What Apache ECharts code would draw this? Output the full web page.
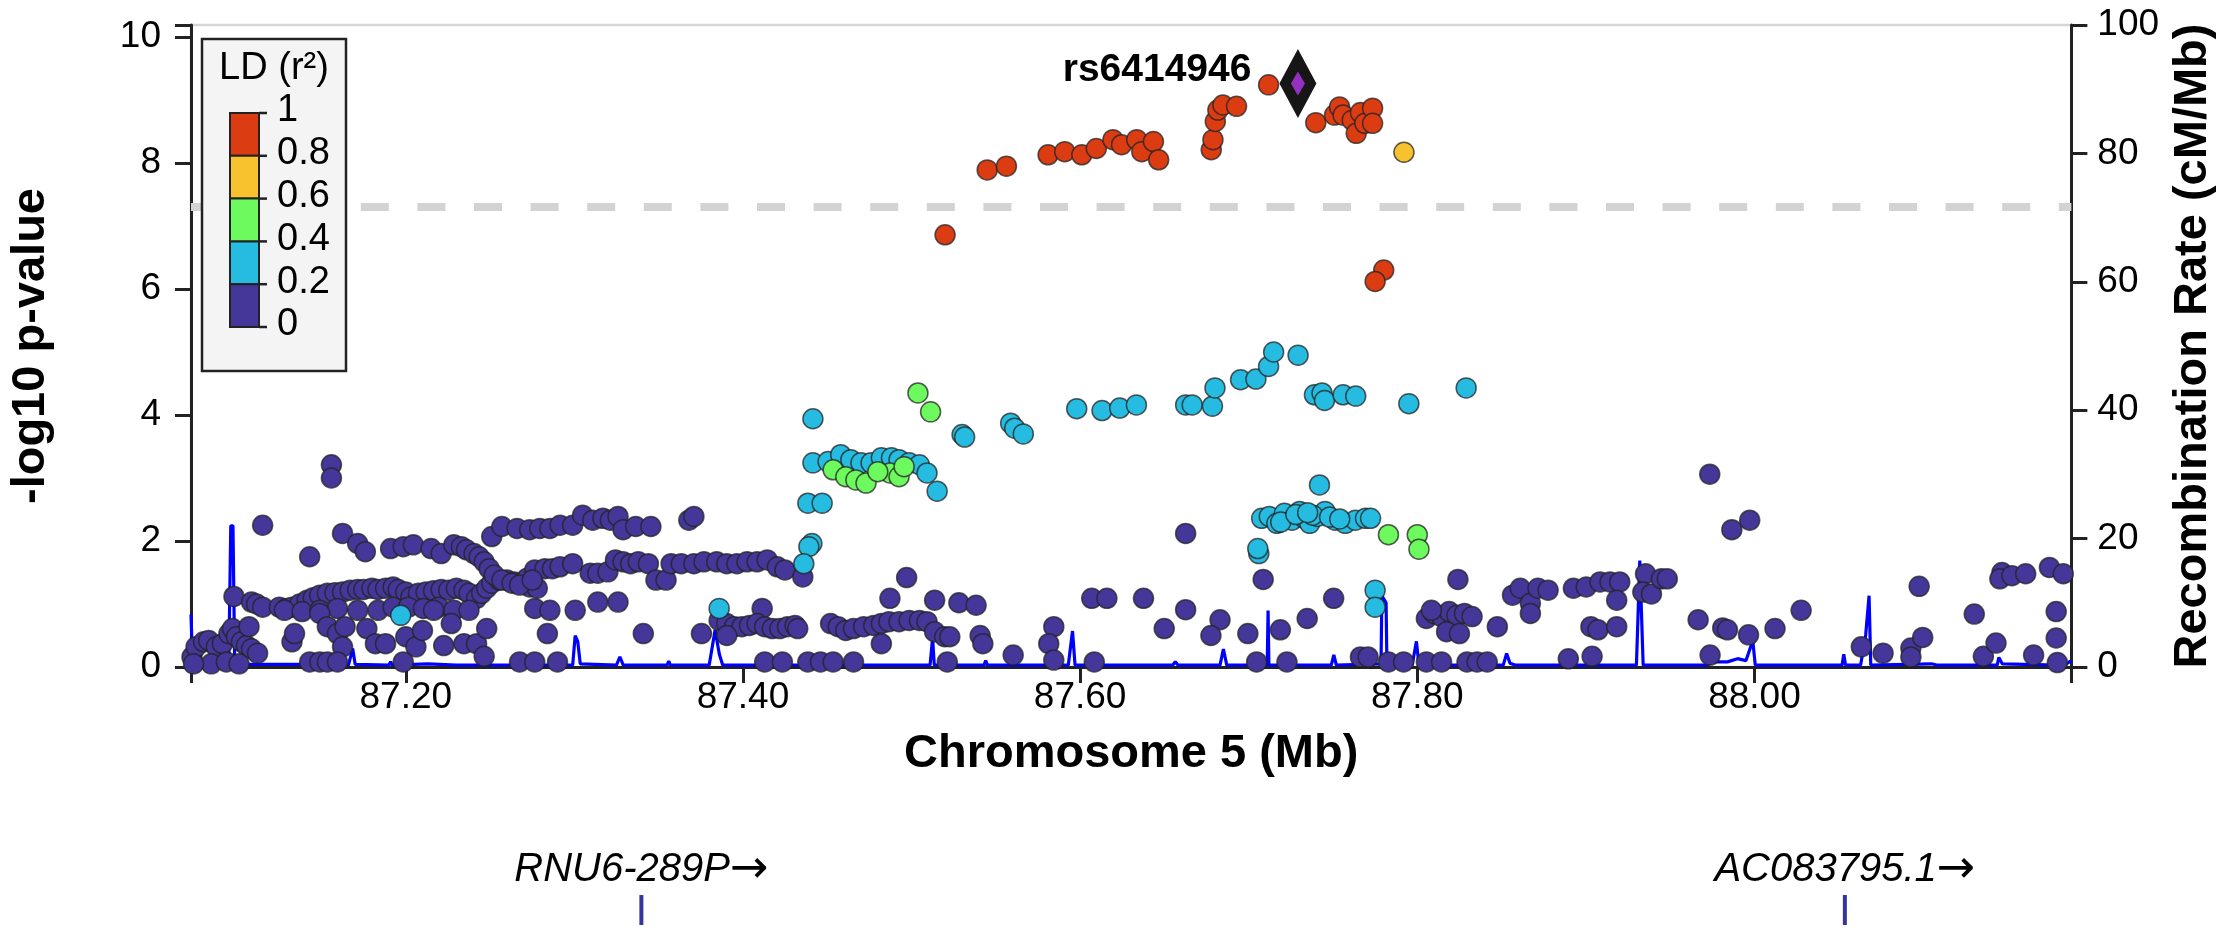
<!DOCTYPE html>
<html><head><meta charset="utf-8">
<script src="https://cdn.jsdelivr.net/npm/echarts@6/dist/echarts.min.js"></script>
<style>html,body{margin:0;padding:0;background:#fff;}#chart{width:2225px;height:933px;}</style>
</head><body><div id="chart"></div>
<script>
// ---------------- DATA ----------------
const xRange = [87.0726, 88.188];
const xTicks = [87.2, 87.4, 87.6, 87.8, 88.0];
const yLeftMax = 10.19;
const yLeftTicks = [0, 2, 4, 6, 8, 10];
const yRightTicks = [0, 20, 40, 60, 80, 100];
const gwsThreshold = 7.3;

const ldLabels = ['1', '0.8', '0.6', '0.4', '0.2', '0'];
const ldColors = ['#45379a', '#26bce1', '#6dfa5f', '#f7c22d', '#dc3c12']; // 0-0.2 .. 0.8-1

const leadSNPName = 'rs6414946';
const leadSNP = [87.7292, 9.26];

const geneNames = ['RNU6-289P', 'AC083795.1'];
const genePositions = [87.3387, 88.0482];

// LD 0 - 0.2
const snpsLD0 = [
 [87.0732,0.16],[87.0756,0.32],[87.0801,0.40],[87.0831,0.42],[87.0876,0.32],[87.0912,0.37],[87.0951,0.53],[87.0972,0.61],
 [87.0996,0.48],[87.1025,0.40],[87.1055,0.34],[87.1085,0.29],[87.1121,0.22],[87.0981,1.12],[87.1070,0.64],[87.1085,1.03],
 [87.1115,1.00],[87.1151,0.95],[87.1151,2.25],[87.0846,0.05],[87.0936,0.08],[87.1011,0.05],[87.0741,0.05],
 [87.1250,0.95],[87.1295,0.93],[87.1325,0.95],[87.1370,1.00],[87.1415,1.06],[87.1451,1.10],[87.1490,1.14],[87.1535,1.17],
 [87.1580,1.18],[87.1625,1.19],[87.1670,1.22],[87.1715,1.23],[87.1751,1.23],[87.1799,1.25],[87.1835,1.23],[87.1880,1.25],
 [87.1925,1.27],[87.1955,1.23],[87.2000,1.19],[87.2030,1.11],[87.2075,1.17],[87.2120,1.19],[87.2165,1.21],[87.2210,1.23],
 [87.2255,1.22],[87.2300,1.25],[87.2345,1.22],[87.2375,1.17],[87.2420,1.09],[87.2450,1.17],[87.2480,1.25],[87.2510,1.33],
 [87.2555,1.38],[87.2600,1.38],[87.2645,1.35],[87.2690,1.33],[87.2735,1.27],[87.2780,1.25],
 [87.1280,0.90],[87.1385,0.88],[87.1490,0.90],[87.1595,0.93],[87.1715,0.90],[87.1835,0.90],[87.1925,0.95],[87.2015,0.95],
 [87.2105,0.93],[87.2195,0.95],[87.2285,0.90],[87.2375,0.90],
 [87.1325,0.40],[87.1340,0.53],[87.1490,0.85],[87.1535,0.64],[87.1595,0.53],[87.1625,0.32],[87.1640,0.64],[87.1769,0.61],
 [87.1820,0.37],[87.1880,0.37],[87.2000,0.48],[87.2060,0.32],[87.2099,0.58],[87.2165,0.90],[87.2225,0.34],[87.2270,0.69],
 [87.2345,0.37],[87.2420,0.37],[87.2480,0.61],[87.2465,0.17],
 [87.1430,0.08],[87.1490,0.08],[87.1535,0.08],[87.1595,0.08],[87.1985,0.08],[87.2675,0.08],[87.2765,0.08],[87.2900,0.08],
 [87.1430,1.75],[87.1625,2.12],[87.1715,1.96],[87.1760,1.83],[87.1910,1.88],[87.1985,1.91],[87.2045,1.94],[87.2150,1.88],
 [87.2210,1.80],[87.2285,1.94],[87.2330,1.91],[87.2360,1.86],[87.2405,1.80],[87.2435,1.75],[87.2465,1.67],[87.2495,1.56],
 [87.2525,1.46],[87.2570,1.38],[87.1559,3.21],[87.1559,3.00],
 [87.2510,2.07],[87.2570,2.23],[87.2660,2.20],[87.2735,2.18],[87.2795,2.20],[87.2855,2.20],[87.2915,2.25],[87.2990,2.25],
 [87.3049,2.41],[87.3109,2.33],[87.3169,2.36],[87.3214,2.33],[87.3259,2.39],[87.3289,2.18],[87.3364,2.23],[87.3454,2.23],
 [87.3679,2.33],[87.3709,2.39],
 [87.2720,1.41],[87.2765,1.54],[87.2825,1.56],[87.2870,1.56],[87.2915,1.59],[87.2990,1.64],[87.3094,1.49],[87.3139,1.49],
 [87.3199,1.51],[87.3244,1.70],[87.3289,1.67],[87.3334,1.64],[87.3379,1.67],[87.3439,1.64],[87.3484,1.38],[87.3544,1.38],
 [87.3574,1.64],[87.3634,1.64],[87.3709,1.64],[87.3769,1.67],[87.3844,1.67],[87.3904,1.64],[87.3964,1.64],[87.4024,1.67],
 [87.4084,1.67],[87.4144,1.70],[87.4204,1.59],[87.4249,1.54],[87.2630,1.33],[87.2675,1.30],[87.2750,1.38],
 [87.2765,0.93],[87.2855,0.90],[87.3005,0.90],[87.3139,1.03],[87.3259,1.03],[87.2840,0.53],[87.3409,0.53],[87.3754,0.53],
 [87.4114,0.93],
 [87.3859,0.74],[87.3904,0.69],[87.3949,0.64],[87.3994,0.64],[87.4039,0.66],[87.4084,0.69],[87.4129,0.64],[87.4174,0.61],
 [87.4219,0.61],[87.4264,0.64],[87.4309,0.66],[87.3904,0.50],[87.4129,0.08],[87.4234,0.08],
 [87.4355,1.43],[87.4325,0.61],[87.4520,0.69],[87.4565,0.64],[87.4610,0.58],[87.4656,0.61],[87.4716,0.64],[87.4776,0.66],
 [87.4821,0.69],[87.4866,0.72],[87.4926,0.72],[87.4986,0.74],[87.5047,0.74],[87.5092,0.72],[87.5137,0.56],[87.5197,0.48],
 [87.5227,0.48],[87.5407,0.50],[87.5423,0.37],[87.4821,0.37],
 [87.4971,1.42],[87.4872,1.09],[87.5137,1.06],[87.5281,1.02],[87.5383,0.98],[87.6069,1.09],[87.6159,1.09],[87.6376,1.09],
 [87.5844,0.64],[87.5814,0.37],[87.6626,2.12],[87.6626,0.91],[87.6830,0.75],[87.6499,0.61],[87.6776,0.50],[87.6995,0.53],
 [87.7188,0.59],[87.7347,0.77],[87.7504,1.09],[87.7086,1.39],[87.8241,1.39],[87.8475,0.64],
 [87.8054,0.77],[87.8099,0.85],[87.8144,0.80],[87.8189,0.88],[87.8235,0.82],[87.8280,0.85],[87.8325,0.80],[87.8084,0.90],
 [87.8174,0.56],[87.8250,0.53],
 [87.8565,1.14],[87.8611,1.25],[87.8671,1.01],[87.8671,0.85],[87.8716,1.25],[87.8776,1.22],[87.8926,1.25],[87.9002,1.27],
 [87.9030,0.64],
 [87.4385,0.08],[87.4460,0.08],[87.4535,0.08],[87.4656,0.08],[87.5212,0.08],[87.5603,0.19],[87.5844,0.11],[87.6084,0.08],
 [87.7047,0.08],[87.7227,0.08],[87.7663,0.16],[87.7708,0.16],[87.7829,0.08],[87.7919,0.08],[87.8054,0.08],[87.8144,0.08],
 [87.8295,0.08],[87.8355,0.08],[87.8415,0.08],[87.8896,0.13],
 [87.9735,3.06],[87.9866,2.18],[87.9972,2.33],[87.9084,1.35],[87.9143,1.35],[87.9201,1.35],[87.9183,1.06],[87.9072,0.59],
 [87.9183,0.64],[87.9037,0.17],[87.9354,1.48],[87.9338,1.19],[87.9389,1.16],[87.9448,1.40],[87.9483,1.40],[87.9666,0.75],
 [87.9812,0.62],[87.9840,0.59],[87.9965,0.51],[88.0122,0.61],[88.0277,0.90],[87.9737,0.19],[88.0634,0.32],[88.0763,0.22],
 [88.0928,0.30],[88.0928,0.16],[88.0998,0.47],[88.0977,1.28],[88.1304,0.84],[88.1358,0.17],[88.1433,0.38],[88.1468,1.50],
 [88.1456,1.40],[88.1527,1.45],[88.1609,1.48],[88.1750,1.58],[88.1832,1.48],[88.1656,0.19],[88.1790,0.88],[88.1790,0.46],
 [88.1797,0.07]
];
// LD 0.2 - 0.4
const snpsLD2 = [
 [87.1970,0.82],[87.3859,0.93],
 [87.4415,3.94],[87.5300,3.69],[87.5315,3.65],[87.5588,3.87],[87.5612,3.79],[87.5663,3.70],[87.5980,4.10],[87.6130,4.07],
 [87.6235,4.11],[87.6334,4.16],[87.6626,4.16],[87.6665,4.16],[87.6785,4.14],[87.6800,4.43],[87.6952,4.56],[87.7043,4.57],
 [87.7118,4.77],[87.7148,5.00],[87.7293,4.95],[87.7390,4.32],[87.7435,4.35],[87.7450,4.23],[87.7560,4.32],[87.7635,4.30],
 [87.7950,4.18],[87.8290,4.43],
 [87.4415,3.24],[87.4505,3.26],[87.4580,3.37],[87.4640,3.29],[87.4700,3.24],[87.4760,3.24],[87.4821,3.32],[87.4881,3.32],
 [87.4926,3.29],[87.4986,3.24],[87.5047,3.21],[87.5092,3.08],[87.5152,2.79],
 [87.4385,2.60],[87.4470,2.60],[87.4409,1.96],[87.4391,1.91],[87.4361,1.64],
 [87.7077,2.36],[87.7122,2.39],[87.7167,2.28],[87.7212,2.44],[87.7257,2.33],[87.7302,2.47],[87.7332,2.36],[87.7362,2.28],
 [87.7408,2.39],[87.7453,2.47],[87.7513,2.33],[87.7573,2.28],[87.7633,2.33],[87.7693,2.36],[87.7723,2.36],[87.7190,2.30],
 [87.7280,2.42],[87.7380,2.41],[87.7480,2.38],[87.7540,2.35],[87.7350,2.45],[87.7420,2.89],[87.7060,1.80],[87.7054,1.88],
 [87.7750,1.22],[87.7750,0.95]
];
// LD 0.4 - 0.6
const snpsLD4 = [
 [87.5038,4.35],[87.5113,4.05],[87.4535,3.13],[87.4610,3.02],[87.4670,2.97],[87.4730,2.92],[87.4872,3.08],[87.4926,3.02],
 [87.4956,3.18],[87.4800,3.10],[87.7829,2.10],[87.8000,2.10],[87.8010,1.87]
];
// LD 0.6 - 0.8
const snpsLD6 = [[87.7921,8.17]];
// LD 0.8 - 1
const snpsLD8 = [
 [87.5199,6.86],[87.5449,7.89],[87.5563,7.95],[87.5810,8.13],[87.5909,8.18],[87.6010,8.13],[87.6096,8.23],[87.6195,8.37],
 [87.6246,8.29],[87.6336,8.37],[87.6366,8.18],[87.6435,8.34],[87.6466,8.05],[87.6778,8.21],[87.6788,8.37],[87.6802,8.66],
 [87.6817,8.84],[87.6847,8.92],[87.6928,8.90],[87.7118,9.24],[87.7398,8.64],[87.7509,8.76],[87.7539,8.89],[87.7560,8.76],
 [87.7614,8.68],[87.7638,8.47],[87.7663,8.80],[87.7689,8.63],[87.7735,8.87],[87.7735,8.63],[87.7801,6.30],[87.7750,6.12]
];

// recombination rate (cM/Mb)
const recombRate = [
 [87.0726,8.2],[87.0735,1],[87.0745,0.5],[87.0950,0.5],[87.0962,22],[87.0975,22],[87.0985,1],[87.1000,0.4],[87.1400,0.4],
 [87.1410,1.6],[87.1420,0.4],[87.1660,0.3],[87.1685,2.9],[87.1700,0.4],[87.1900,0.3],[87.1910,0.8],[87.1920,0.3],[87.2130,0.5],
 [87.2300,0.3],[87.2990,0.3],[87.3005,4.9],[87.3020,4.0],[87.3035,0.5],[87.3250,0.3],[87.3270,1.6],[87.3290,0.3],[87.3550,0.3],
 [87.3560,0.9],[87.3570,0.3],[87.3800,0.3],[87.3835,5.8],[87.3860,2],[87.3880,0.3],[87.4550,0.3],[87.4565,1],[87.4580,0.3],
 [87.4790,0.3],[87.4800,0.6],[87.4810,0.3],[87.5110,0.3],[87.5125,4.5],[87.5135,0.3],[87.5430,0.3],[87.5440,1],[87.5450,0.3],
 [87.5930,0.3],[87.5955,5.6],[87.5970,0.3],[87.6550,0.3],[87.6565,0.8],[87.6580,0.3],[87.6830,0.3],[87.6850,2.8],[87.6870,0.3],
 [87.7110,0.3],[87.7115,8.8],[87.7120,0.3],[87.7490,0.3],[87.7505,1.9],[87.7520,0.3],[87.7785,0.5],[87.7790,11.1],[87.7815,10],
 [87.7820,0.5],[87.7970,0.3],[87.7995,4.0],[87.8010,0.3],[87.8510,0.3],[87.8530,2.1],[87.8550,0.6],[87.8580,0.3],[87.9300,0.3],
 [87.9320,16.6],[87.9340,0.3],[87.9720,0.3],[87.9760,0.8],[87.9840,0.8],[87.9900,1.3],[87.9950,1.0],[87.9990,4.1],[88.0005,0.3],
 [88.0520,0.3],[88.0530,2],[88.0540,0.3],[88.0630,0.3],[88.0660,5],[88.0680,11.1],[88.0690,0.3],[88.1050,0.5],[88.1080,0.3],
 [88.1440,0.3],[88.1450,1.5],[88.1470,0.5],[88.1800,0.3],[88.1850,0.5],[88.1880,1.0]
];

// ---------------- CHART ----------------
const FONT = '"Liberation Sans", Arial, Helvetica, sans-serif';
const chart = echarts.init(document.getElementById('chart'), null, {renderer: 'canvas'});

const ldSets = [snpsLD0, snpsLD2, snpsLD4, snpsLD6, snpsLD8];
const scatterSeries = ldSets.map((d, i) => ({
  type: 'scatter', data: d, xAxisIndex: 0, yAxisIndex: 0, symbol: 'circle', symbolSize: 20,
  z: 4 + i, silent: true,
  itemStyle: {color: ldColors[i], borderColor: 'rgba(35,35,35,0.75)', borderWidth: 1.5, opacity: 1}
}));
scatterSeries[0].markLine = {
  silent: true, symbol: ['none', 'none'], animation: false, z: 1,
  label: {show: false},
  lineStyle: {color: '#d3d3d3', width: 8, type: [28, 28.6], cap: 'butt', opacity: 1},
  data: [{yAxis: gwsThreshold}]
};

// legend graphic
const barX = 230, barW = 29, barTop = 113, segH = 42.8;
const legendChildren = [
  {type: 'rect', z: 100, shape: {x: 202, y: 39, width: 144, height: 332}, style: {fill: '#f4f4f4', stroke: '#222', lineWidth: 2.5}},
  {type: 'text', z: 101, x: 274, y: 69, style: {text: 'LD (r²)', font: '38px ' + FONT, fill: '#000', align: 'center', verticalAlign: 'middle'}}
];
for (let i = 0; i < 5; i++) {
  legendChildren.push({type: 'rect', z: 101, shape: {x: barX, y: barTop + i * segH, width: barW, height: segH},
    style: {fill: ldColors[4 - i], stroke: '#222', lineWidth: 2}});
}
for (let i = 0; i < 6; i++) {
  const yy = barTop + i * segH;
  legendChildren.push({type: 'line', z: 101, shape: {x1: barX + barW, y1: yy, x2: barX + barW + 8, y2: yy}, style: {stroke: '#222', lineWidth: 2.5}});
  legendChildren.push({type: 'text', z: 101, x: 277, y: yy - 2, style: {text: ldLabels[i], font: '38px ' + FONT, fill: '#000', align: 'left', verticalAlign: 'middle'}});
}

const axisLineStyle = {color: '#222', width: 3};
const option = {
  animation: false,
  backgroundColor: '#fff',
  textStyle: {fontFamily: FONT},
  grid: [
    {left: 190, right: 143, top: 25, bottom: 266, show: true, borderColor: '#d6d6d6', borderWidth: 2.5, backgroundColor: 'transparent'},
    {left: 190, right: 143, top: 840, height: 93}
  ],
  xAxis: [
    {type: 'value', gridIndex: 0, min: xRange[0], max: xRange[1],
     axisLine: {show: true, onZero: false, lineStyle: axisLineStyle},
     axisTick: {show: true, length: 16, lineStyle: {color: '#222', width: 3}, customValues: [xRange[0]].concat(xTicks, [xRange[1]])},
     axisLabel: {show: true, customValues: xTicks, formatter: v => v.toFixed(2), fontSize: 37, color: '#000', margin: 12, fontFamily: FONT},
     splitLine: {show: false},
     name: 'Chromosome 5 (Mb)', nameLocation: 'middle', nameGap: 64,
     nameTextStyle: {fontSize: 47, fontWeight: 'bold', color: '#000', fontFamily: FONT}},
    {type: 'value', gridIndex: 1, min: xRange[0], max: xRange[1], show: false}
  ],
  yAxis: [
    {type: 'value', gridIndex: 0, position: 'left', min: 0, max: yLeftMax,
     axisLine: {show: true, onZero: false, lineStyle: axisLineStyle},
     axisTick: {show: true, length: 16, lineStyle: {color: '#222', width: 3}, customValues: yLeftTicks.concat([yLeftMax])},
     axisLabel: {show: true, customValues: yLeftTicks, fontSize: 37, color: '#000', margin: 30, fontFamily: FONT},
     splitLine: {show: false},
     name: '-log10 p-value', nameLocation: 'middle', nameGap: 136, nameRotate: 90,
     nameTextStyle: {fontSize: 47, fontWeight: 'bold', color: '#000', fontFamily: FONT}},
    {type: 'value', gridIndex: 0, position: 'right', min: 0, max: 100,
     axisLine: {show: true, onZero: false, lineStyle: axisLineStyle},
     axisTick: {show: true, length: 16, lineStyle: {color: '#222', width: 3}, customValues: yRightTicks},
     axisLabel: {show: true, customValues: yRightTicks, fontSize: 37, color: '#000', margin: 26, fontFamily: FONT},
     splitLine: {show: false},
     name: 'Recombination Rate (cM/Mb)', nameLocation: 'middle', nameGap: 82, nameRotate: 90,
     nameTextStyle: {fontSize: 47, fontWeight: 'bold', color: '#000', fontFamily: FONT}},
    {type: 'value', gridIndex: 1, min: 0, max: 1, show: false}
  ],
  graphic: [{type: 'group', z: 100, children: legendChildren}],
  series: [
    {type: 'line', data: recombRate, xAxisIndex: 0, yAxisIndex: 1, symbol: 'none', showSymbol: false, silent: true,
     lineStyle: {color: '#0000ff', width: 3.2, opacity: 1}, z: 2},
    ...scatterSeries,
    {type: 'scatter', data: [leadSNP], xAxisIndex: 0, yAxisIndex: 0, symbol: 'diamond', symbolSize: [37, 69], z: 20, silent: true,
     itemStyle: {color: '#161616', opacity: 1},
     label: {show: true, position: 'left', distance: 28, offset: [0, -13], formatter: leadSNPName, opacity: 1,
             fontSize: 39, fontWeight: 'bold', color: '#000', fontFamily: FONT}},
    {type: 'scatter', data: [leadSNP], xAxisIndex: 0, yAxisIndex: 0, symbol: 'diamond', symbolSize: [14, 24], z: 21, silent: true,
     itemStyle: {color: '#9630c0', opacity: 1}},
    {type: 'scatter', data: genePositions.map((p, i) => ({value: [p, 0.247], name: geneNames[i]})),
     xAxisIndex: 1, yAxisIndex: 2, symbol: 'rect', symbolSize: [4, 30], silent: true,
     itemStyle: {color: '#3535a0', opacity: 1},
     label: {show: true, position: 'top', distance: 2, formatter: p => '{g|' + p.name + '}{a|→}', opacity: 1,
             fontSize: 40, fontStyle: 'italic', color: '#000', fontFamily: FONT,
             rich: {g: {fontSize: 40, fontStyle: 'italic', color: '#000', fontFamily: FONT},
                    a: {fontSize: 46, fontStyle: 'normal', color: '#000', fontFamily: '"DejaVu Sans", sans-serif'}}}}
  ]
};
chart.setOption(option);
</script></body></html>
